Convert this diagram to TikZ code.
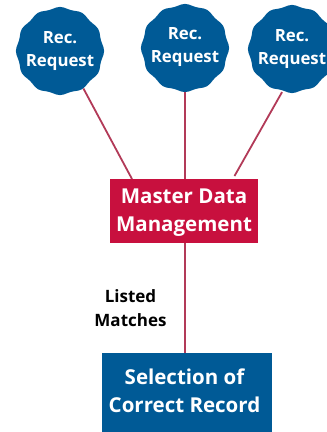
\documentclass[tikz,border=0pt]{standalone}
\usepackage{fontspec}
\setmainfont{Open Sans}
\definecolor{mdmblue}{HTML}{005A96}
\definecolor{mdmred}{HTML}{C8103E}
\definecolor{mdmline}{HTML}{B23A58}
\tikzset{
  blobanchor/.style={circle,minimum size=88pt,inner sep=0pt,text=white,align=center,font=\fontsize{16.8}{23}\selectfont\bfseries},
  wavy/.style={fill=mdmblue,draw=none},
  link/.style={draw=mdmline,line width=1.8pt},
  redbox/.style={fill=mdmred,inner sep=0pt},
  bluebox/.style={fill=mdmblue,inner sep=0pt},
  boxtext/.style={inner sep=0pt,text=white,align=center,font=\fontsize{20.5}{28}\selectfont\bfseries},
  caption/.style={inner sep=0pt,text=black,align=center,font=\fontsize{17}{23.5}\selectfont\bfseries}
}
\newcommand{\waveblob}[2]{\fill[wavy] plot[smooth cycle,domain=0:355,samples=72,shift={(#1,#2)}] (\x:{43.2+0.9*cos(12*\x)});}
\begin{document}
\begin{tikzpicture}[x=1pt,y=1pt]
\useasboundingbox (0,0) rectangle (327,-432);
\waveblob{60}{-51}
\waveblob{185}{-48}
\waveblob{292}{-49}
\node[blobanchor] (b1) at (60,-51) {Rec.\\Request};
\node[blobanchor] (b2) at (185,-47.5) {Rec.\\Request};
\node[blobanchor] (b3) at (292,-49) {Rec.\\Request};
\node[redbox,minimum width=148pt,minimum height=64pt] (m) at (184,-211) {};
\node[boxtext] (mt) at (184,-213) {Master Data\\Management};
\node[bluebox,minimum width=170pt,minimum height=79pt] (s) at (187,-392.5) {};
\node[boxtext] (st) at (184.5,-391) {Selection of\\Correct Record};
\node[caption] (l) at (130.5,-308) {Listed\\Matches};
\coordinate (m1) at (132,-179);
\coordinate (m2) at (185,-179);
\coordinate (m3) at (234.5,-176);
\coordinate (m4) at (185,-243);
\coordinate (s1) at (185,-353);
\draw[link] (b1.-58) -- (m1);
\draw[link] (b2.south -| m2) -- (m2);
\draw[link] (b3.-103) -- (m3);
\draw[link] (m4) -- (s1);
\end{tikzpicture}
\end{document}
